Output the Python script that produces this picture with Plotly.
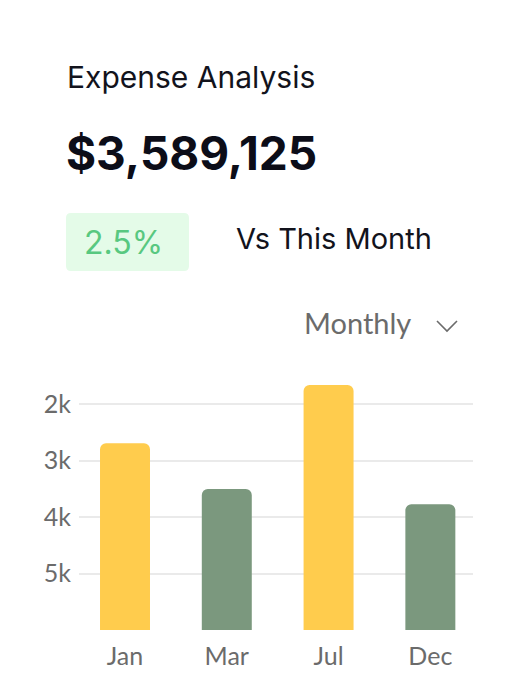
import plotly.graph_objects as go

# ---- data ----
months = ["Jan", "Mar", "Jul", "Dec"]
values = [3.31, 2.50, 4.34, 2.23]
bar_colors = ["#FFCC4D", "#7B987E", "#FFCC4D", "#7B987E"]
y_tickvals = [0, 1, 2, 3, 4]
y_ticktext = ["", "5k", "4k", "3k", "2k"]

title_text = "Expense Analysis"
total_text = "$3,589,125"
badge_text = "2.5%"
compare_text = "Vs This Month"
period_text = "Monthly"

W, H = 524, 697
PL, PR, PT, PB = 79, 473, 376, 630  # plot area in pixels


def px(x):
    return (x - PL) / (PR - PL)


def py(y):
    return (PB - y) / (PB - PT)


def rounded_rect(x0, y0, x1, y1, r):
    rx = r / (PR - PL)
    ry = r / (PB - PT)
    X0, X1 = px(x0), px(x1)
    Y0, Y1 = py(y0), py(y1)  # Y0 top (larger), Y1 bottom
    return (f"M {X0+rx},{Y0} L {X1-rx},{Y0} Q {X1},{Y0} {X1},{Y0-ry} "
            f"L {X1},{Y1+ry} Q {X1},{Y1} {X1-rx},{Y1} L {X0+rx},{Y1} "
            f"Q {X0},{Y1} {X0},{Y1+ry} L {X0},{Y0-ry} Q {X0},{Y0} {X0+rx},{Y0} Z")


fig = go.Figure(
    go.Bar(
        x=months,
        y=values,
        marker=dict(color=bar_colors, line=dict(width=0)),
        width=0.491,
        hoverinfo="skip",
    )
)

tick_font = dict(family="Lato, Roboto, sans-serif", size=25, color="#6b6b6b")

fig.update_layout(
    width=W,
    height=H,
    margin=dict(l=PL, r=W - PR, t=PT, b=H - PB, pad=0),
    paper_bgcolor="white",
    plot_bgcolor="white",
    showlegend=False,
    barcornerradius=6,
    xaxis=dict(
        range=[-0.452, 3.419],
        showgrid=False,
        zeroline=False,
        showline=False,
        ticks="",
        tickfont=tick_font,
        ticklabelstandoff=9,
        fixedrange=True,
    ),
    yaxis=dict(
        range=[0, 4.5],
        tickvals=y_tickvals,
        ticktext=y_ticktext,
        showgrid=True,
        gridcolor="#EAEAEA",
        gridwidth=1.5,
        zeroline=False,
        showline=False,
        ticks="",
        tickfont=tick_font,
        ticklabelstandoff=7,
        fixedrange=True,
    ),
    shapes=[
        dict(type="path", xref="paper", yref="paper",
             path=rounded_rect(66, 213, 189, 271, 5),
             fillcolor="#E4FBE8", line=dict(width=0), layer="below"),
        dict(type="path", xref="paper", yref="paper",
             path=f"M {px(437)},{py(321)} L {px(447)},{py(331)} L {px(457)},{py(321)}",
             line=dict(color="#6b6b6b", width=1.6)),
    ],
    annotations=[
        dict(text=title_text, xref="paper", yref="paper", x=px(65), y=py(77),
             xanchor="left", yanchor="middle", showarrow=False,
             font=dict(family="Inter, sans-serif", size=30, color="#12131C")),
        dict(text=f"<b>{total_text}</b>", xref="paper", yref="paper", x=px(64), y=py(153),
             xanchor="left", yanchor="middle", showarrow=False,
             font=dict(family="Inter, sans-serif", size=46, color="#0C0D18")),
        dict(text=badge_text, xref="paper", yref="paper", x=px(82), y=py(242),
             xanchor="left", yanchor="middle", showarrow=False,
             font=dict(family="Inter, sans-serif", size=32, color="#58C880")),
        dict(text=compare_text, xref="paper", yref="paper", x=px(234), y=py(238),
             xanchor="left", yanchor="middle", showarrow=False,
             font=dict(family="Inter, sans-serif", size=29, color="#12131C")),
        dict(text=period_text, xref="paper", yref="paper", x=px(302), y=py(322),
             xanchor="left", yanchor="middle", showarrow=False,
             font=dict(family="Lato, Roboto, sans-serif", size=29, color="#6b6b6b")),
    ],
)

fig.write_html("out.html", config=dict(displayModeBar=False),
               post_script="document.body.style.margin='0';")
